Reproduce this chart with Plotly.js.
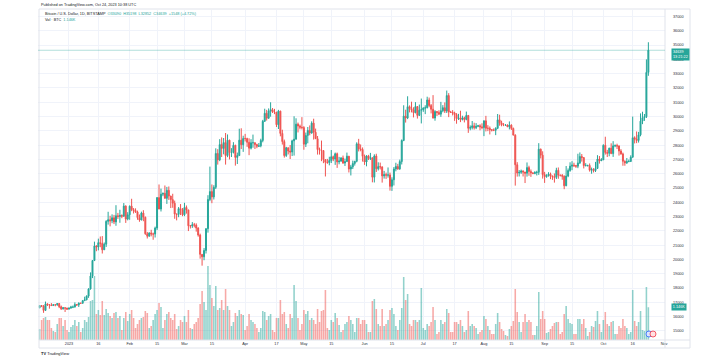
<!DOCTYPE html>
<html>
<head>
<meta charset="utf-8">
<script src="https://cdn.plot.ly/plotly-3.0.1.min.js"></script>
<style>html,body{margin:0;padding:0;background:#fff;}#chart{width:720px;height:360px;}</style>
</head>
<body>
<div id="chart"></div>
<script>
// Daily BTC/USD (BITSTAMP), 2022-12-17 .. 2023-10-24
const startDate = '2022-12-17';

const open = [
16630,16780,16740,16440,16900,16830,16820,16780,16840,16830,16920,16700,16550,16630,16600,
16530,16610,16670,16670,16850,16830,16950,16940,17120,17180,17440,17940,18850,19930,20950,20880,21180,21130,20680,21070,22670,22780,22710,22920,22630,23060,23010,23080,23030,23740,22830,
23130,23730,23490,23430,23330,22930,22760,23250,22960,21800,21630,21860,21780,21780,22200,24330,23530,24570,24630,24280,24840,24440,24190,23940,23180,23160,23560,23490,
23130,23640,23470,22360,22350,22430,22410,22200,21710,20360,20190,20630,22160,24200,24750,24380,25050,27420,26970,28040,27770,28180,27270,28350,27480,27490,27990,27140,27270,28350,28030,
28470,28460,28200,27790,28170,28170,28040,27920,27950,28330,29670,30230,29880,30390,30480,30320,30310,29430,30380,28820,28250,27270,27820,27590,27520,28300,28420,29470,29340,29250,
29230,28070,28680,29030,28850,29540,28900,28450,27690,27650,27620,26990,26800,26780,26930,27190,27030,27400,26830,26890,27100,26750,26850,27230,26330,26480,26720,26870,28090,27740,27700,
27220,26820,27250,27070,27120,25760,27240,26350,26500,26480,25850,25940,25900,25920,25120,25580,26330,26510,26340,26850,28330,30030,29900,30690,30550,30470,30270,30700,30080,30450,
30480,30590,30620,31160,30770,30510,29900,30350,30290,30170,30410,30620,30390,31470,30320,30290,30250,30140,29860,29910,29800,29910,29800,30080,29180,29230,29350,29220,29320,29360,29280,
29230,29700,29180,29180,29080,29050,29040,29180,29770,29560,29430,29400,29410,29290,29400,29170,28700,26630,26050,26100,26190,26120,26040,26430,26160,26060,26010,26090,26100,27720,27300,
25940,25800,25870,25970,25830,25790,25750,26240,25900,25890,25830,25160,25840,26230,26530,26600,26570,26530,26760,27210,27130,26570,26580,26580,26250,26300,26220,26370,27030,26910,
26970,27990,27490,27430,27790,27410,27950,27970,27940,27590,27390,26870,26760,26860,26860,27160,28520,28420,28330,28720,29680,29920,29990,33090
];

const high = [
16790,16800,16810,17060,16910,16860,16950,16870,16860,16930,16960,16780,16660,16640,16630,
16630,16760,16780,17000,16880,17000,16960,17170,17400,17490,17990,19100,19960,21250,21000,21460,21610,21640,21190,22750,23340,23060,23160,23120,23800,23260,23480,23160,23950,23790,23310,
23780,24250,23600,23580,23420,23150,23350,23450,23000,21930,21900,22080,21880,22300,24360,25250,24960,24680,25180,25080,25110,24460,24600,24120,23210,23670,23880,23600,
23970,23780,23480,22410,22620,22560,22530,22260,21810,20370,20800,22180,24500,26500,25250,25200,27780,27720,28420,28540,28500,28850,28750,28380,27790,28210,28030,27480,29150,29180,28660,
28790,28520,28480,28420,28740,28190,28100,28150,28450,29770,30550,30470,30570,31000,30600,30540,30320,30470,30410,29080,28390,27880,27820,28010,28380,30020,29880,29580,29440,29960,
29330,28880,29270,29380,29670,29850,29160,28640,27830,28320,27640,26990,27040,27190,27660,27270,27480,27480,27180,27160,27270,27060,27480,27230,26620,26920,26900,28200,28440,28050,27840,
27340,27300,27320,27460,27130,27360,27400,26800,26780,26520,26200,26080,26440,26080,25750,26470,26770,26690,26990,28400,30790,30480,31420,30780,31040,30650,31010,30720,30840,31260,
30650,30790,31390,31330,30880,31500,30450,30390,30440,31030,30800,30990,31820,31640,30400,30450,30340,30240,30190,30410,30060,29990,30350,30100,29380,29690,29570,29540,29420,29460,29530,
29730,30050,29400,29310,29110,29170,29250,30180,30130,29710,29540,29470,29450,29660,29460,29230,28760,26810,26260,26290,26240,26130,26790,26560,26300,26110,26180,26210,28140,27760,27570,
26130,25970,26110,26080,25880,26020,26420,26440,25940,25980,25880,26540,26370,26800,26880,26770,26620,27400,27490,27380,27160,26740,26630,26720,26430,26390,26830,27300,27240,27090,
28060,28590,27670,27820,28130,28280,28050,28100,27990,27720,27480,26940,27100,26990,27290,30000,28620,28960,28930,30220,30340,30180,34000,35198
];

const low = [
16580,16670,16270,16400,16750,16560,16760,16770,16730,16770,16600,16470,16500,16330,16470,
16500,16550,16600,16650,16750,16680,16900,16910,17100,17150,17320,17900,18700,19890,20580,20640,20860,20420,20670,20880,22440,22320,22540,22480,22360,22840,22570,22890,22990,22560,22740,
22780,23380,23220,23260,22780,22640,22750,22680,21730,21470,21610,21620,21380,21540,22060,23520,23360,24430,24290,23890,24170,23600,23620,22850,22740,22960,23110,23030,
23030,23210,21990,22170,22210,22250,21950,21600,20060,19570,19950,20420,21880,24080,23940,24200,24930,26640,26880,27170,27360,26640,27160,27000,27170,27420,26570,26680,27250,27730,27530,
28260,27880,27300,27700,27820,27730,27790,27870,27850,28200,29620,29720,29860,29990,30250,30170,29270,29130,28620,28040,27130,27180,27350,27030,27240,27270,28390,28890,29110,29100,
27680,27870,28130,28690,28800,28390,28430,27340,27340,26880,26740,25810,26700,26590,26750,26880,26620,26410,26660,26830,26690,26540,26830,26090,25880,26330,26570,26800,27560,27570,26850,
26620,26520,26960,26960,25400,25390,26120,26230,26300,25380,25660,25640,25730,24820,24800,25180,26170,26280,26270,26650,28280,29580,29820,30290,30290,29940,30230,29860,30050,29520,
30330,30170,30570,30650,30220,29860,29710,30040,30100,29980,30300,30250,30250,29960,30250,30080,29700,29500,29760,29610,29730,29590,29740,28860,29040,29100,29090,29120,29260,29040,29110,
28630,28960,28980,28750,28960,28980,28700,29120,29360,29320,29330,29360,29260,29100,29060,28700,25170,25800,25810,25990,25810,25350,25800,25860,25780,25980,25970,25880,25920,27070,25660,
25360,25720,25800,25620,25570,25380,25630,25650,25810,25580,24920,25130,25760,26140,26250,26470,26410,26390,26680,26850,26370,26510,26500,26150,26000,26090,26120,26340,26710,26890,
26970,27340,27170,27220,27370,27180,27860,27730,27270,27330,26560,26560,26690,26800,26820,27120,28120,28140,28180,28620,29470,29700,29900,32852
];

const close = [
16780,16740,16440,16900,16830,16820,16780,16840,16830,16920,16700,16550,16630,16600,16530,
16610,16670,16670,16850,16830,16950,16940,17120,17180,17440,17940,18850,19930,20950,20880,21180,21130,20680,21070,22670,22780,22710,22920,22630,23060,23010,23080,23030,23740,22830,23130,
23730,23490,23430,23330,22930,22760,23250,22960,21800,21630,21860,21780,21780,22200,24330,23530,24570,24630,24280,24840,24440,24190,23940,23180,23160,23560,23490,23130,
23640,23470,22360,22350,22430,22410,22200,21710,20360,20190,20630,22160,24200,24750,24380,25050,27420,26970,28040,27770,28180,27270,28350,27480,27490,27990,27140,27270,28350,28030,28470,
28460,28200,27790,28170,28170,28040,27920,27950,28330,29670,30230,29880,30390,30480,30320,30310,29430,30380,28820,28250,27270,27820,27590,27520,28300,28420,29470,29340,29250,29230,
28070,28680,29030,28850,29540,28900,28450,27690,27650,27620,26990,26800,26780,26930,27190,27030,27400,26830,26890,27100,26750,26850,27230,26330,26480,26720,26870,28090,27740,27700,27220,
26820,27250,27070,27120,25760,27240,26350,26500,26480,25850,25940,25900,25920,25120,25580,26330,26510,26340,26850,28330,30030,29900,30690,30550,30470,30270,30700,30080,30450,30480,
30590,30620,31160,30770,30510,29900,30350,30290,30170,30410,30620,30390,31470,30320,30290,30250,30140,29860,29910,29800,29910,29800,30080,29180,29230,29350,29220,29320,29360,29280,29230,
29700,29180,29180,29080,29050,29040,29180,29770,29560,29430,29400,29410,29290,29400,29170,28700,26630,26050,26100,26190,26120,26040,26430,26160,26060,26010,26090,26100,27720,27300,25940,
25800,25870,25970,25830,25790,25750,26240,25900,25890,25830,25160,25840,26230,26530,26600,26570,26530,26760,27210,27130,26570,26580,26580,26250,26300,26220,26370,27030,26910,26970,
27990,27490,27430,27790,27410,27950,27970,27940,27590,27390,26870,26760,26860,26860,27160,28520,28420,28330,28720,29680,29920,29990,33090,34639
];

const volume = [
385,700,770,805,700,700,420,315,280,560,770,770,490,700,350,
280,455,525,700,490,630,280,420,700,630,805,1365,1400,2240,910,1050,875,1365,875,1085,945,840,770,945,980,770,840,350,770,980,665,
910,1050,770,420,560,700,770,805,1015,945,420,490,700,910,1050,1295,1155,420,700,910,980,770,700,910,385,490,700,630,
840,630,1050,420,385,560,630,770,1260,1715,1330,1050,2590,1925,1470,1190,1890,1050,1120,1400,1050,1785,1190,1050,490,630,945,840,1050,910,875,
350,490,910,700,630,560,420,280,420,1015,980,700,840,910,350,280,770,770,1400,910,980,560,420,910,770,1925,1365,770,350,560,
1050,910,1015,700,770,700,560,1085,630,1015,1050,1750,420,350,700,630,945,770,525,280,350,560,630,840,700,560,280,770,770,560,700,
700,560,280,280,1365,1435,1085,560,490,1085,490,560,700,1050,1120,910,490,350,700,1120,2205,1400,1610,560,490,700,700,630,700,1820,
420,350,560,490,630,1155,700,210,280,700,560,630,1085,945,280,280,630,630,560,700,490,280,350,1015,490,560,490,420,210,280,350,
840,735,490,350,210,210,560,945,630,385,315,175,140,385,490,665,1785,980,630,280,630,910,630,700,630,175,175,490,1680,735,1015,
735,245,280,385,490,595,630,630,210,280,910,1190,735,595,560,210,210,735,735,560,735,420,140,280,490,455,665,1015,560,280,
700,980,560,490,630,665,210,210,490,420,735,490,420,210,280,1750,665,490,630,1015,350,315,1855,1146
];

const tickDates = ['2023-01-01','2023-01-16','2023-02-01','2023-02-15','2023-03-01','2023-03-15','2023-04-01','2023-04-17','2023-05-01','2023-05-15','2023-06-01','2023-06-15','2023-07-01','2023-07-17','2023-08-01','2023-08-15','2023-09-01','2023-09-15','2023-10-01','2023-10-16','2023-11-01'];
const tickLabels = ['2023','16','Feb','15','Mar','15','Apr','17','May','15','Jun','15','Jul','17','Aug','15','Sep','15','Oct','16','Nov'];

const lastPrice = 34639;
const lastVolume = 1146;

// build dates
const dates = [];
const t0 = Date.parse(startDate + 'T00:00:00Z');
for (let i = 0; i < close.length; i++) {
  dates.push(new Date(t0 + i * 86400000).toISOString().slice(0, 10));
}

const UP = '#26a69a', DOWN = '#ef5350';
const volColors = close.map((c, i) => c >= open[i] ? 'rgba(38,166,154,0.5)' : 'rgba(239,83,80,0.5)');

// pixel -> paper helpers (plot area x:38..665, y:10..340)
const px = v => (v - 38) / 627;
const py = v => (340 - v) / 330;

const FONT = 'Liberation Sans, Arial, sans-serif';
const FS = 3.8;

const traces = [
  {
    type: 'bar', x: dates, y: volume, yaxis: 'y',
    marker: {color: volColors, line: {width: 0}},
    hoverinfo: 'skip'
  },
  {
    type: 'candlestick', x: dates, open: open, high: high, low: low, close: close, yaxis: 'y2',
    increasing: {line: {color: UP, width: 1}, fillcolor: UP},
    decreasing: {line: {color: DOWN, width: 1}, fillcolor: DOWN},
    whiskerwidth: 0, hoverinfo: 'skip'
  }
];

const layout = {
  width: 720, height: 360,
  margin: {l: 38, r: 55, t: 10, b: 20, pad: 0},
  paper_bgcolor: '#ffffff', plot_bgcolor: '#ffffff',
  showlegend: false,
  bargap: 0.2,
  font: {family: FONT, size: FS, color: '#131722'},
  xaxis: {
    type: 'date',
    range: ['2022-12-16 04:00', '2023-11-01 12:00'],
    tickmode: 'array', tickvals: tickDates, ticktext: tickLabels,
    showgrid: true, gridcolor: '#f0f3fa', gridwidth: 1,
    ticks: '', zeroline: false, showline: false,
    tickfont: {size: FS, color: '#2a2e39', family: FONT},
    rangeslider: {visible: false}, fixedrange: true
  },
  yaxis: {range: [0, 11550], visible: false, fixedrange: true, showgrid: false, zeroline: false},
  yaxis2: {
    overlaying: 'y', side: 'right',
    range: [14370, 37455], tick0: 0, dtick: 1000, tickformat: 'd',
    showgrid: true, gridcolor: '#f0f3fa', gridwidth: 1,
    ticks: '', zeroline: false, showline: false,
    ticklabelstandoff: 7,
    tickfont: {size: FS, color: '#2a2e39', family: FONT},
    fixedrange: true
  },
  shapes: [
    {type: 'rect', xref: 'paper', yref: 'paper', x0: px(39), x1: px(690), y0: py(348), y1: py(9),
     line: {color: '#e0e3eb', width: 1}, fillcolor: 'rgba(0,0,0,0)', layer: 'above'},
    {type: 'line', xref: 'paper', yref: 'paper', x0: 1, x1: 1, y0: py(348), y1: py(9),
     line: {color: '#e0e3eb', width: 1}},
    {type: 'line', xref: 'paper', yref: 'paper', x0: px(39), x1: px(690), y0: 0, y1: 0,
     line: {color: '#e0e3eb', width: 1}},
    {type: 'line', xref: 'paper', yref: 'y2', x0: 0, x1: 1, y0: lastPrice, y1: lastPrice,
     line: {color: 'rgba(38,166,154,0.35)', width: 1}},
    {type: 'circle', xref: 'paper', yref: 'paper', x0: px(646), x1: px(652), y0: py(337), y1: py(331),
     line: {color: '#2962ff', width: 0.8}, fillcolor: '#dbe5ff'},
    {type: 'circle', xref: 'paper', yref: 'paper', x0: px(650), x1: px(656), y0: py(337), y1: py(331),
     line: {color: '#f23645', width: 0.8}, fillcolor: '#ffe1e3'}
  ],
  annotations: [
    {xref: 'paper', yref: 'paper', x: px(39), y: py(5), xanchor: 'left', yanchor: 'middle', showarrow: false,
     text: 'Published on TradingView.com, Oct 24, 2023 10:38 UTC', font: {size: FS, color: '#131722'}},
    {xref: 'paper', yref: 'paper', x: px(43), y: py(14), xanchor: 'left', yanchor: 'middle', showarrow: false,
     text: 'Bitcoin / U.S. Dollar, 1D, BITSTAMP  <span style="color:#26a69a">O33090  H35198  L32852  C34639  +1548 (+4.72%)</span>',
     font: {size: FS, color: '#131722'}},
    {xref: 'paper', yref: 'paper', x: px(43), y: py(19.5), xanchor: 'left', yanchor: 'middle', showarrow: false,
     text: 'Vol · BTC  <span style="color:#26a69a">1.146K</span>', font: {size: FS, color: '#131722'}},
    {xref: 'paper', yref: 'y2', x: px(671), y: lastPrice + 150, xanchor: 'left', yanchor: 'top', showarrow: false,
     text: '34639<br>13:21:22', align: 'left', bgcolor: UP, borderpad: 1,
     font: {size: FS, color: '#ffffff'}},
    {xref: 'paper', yref: 'y', x: px(671), y: lastVolume, xanchor: 'left', yanchor: 'middle', showarrow: false,
     text: '1.146K', bgcolor: UP, borderpad: 0.8, font: {size: FS, color: '#ffffff'}},
    {xref: 'paper', yref: 'paper', x: px(39), y: py(353), xanchor: 'left', yanchor: 'middle', showarrow: false,
     text: '<b>TV</b> TradingView', font: {size: 4, color: '#131722'}}
  ]
};

Plotly.newPlot('chart', traces, layout, {staticPlot: true, displayModeBar: false});
</script>
</body>
</html>
